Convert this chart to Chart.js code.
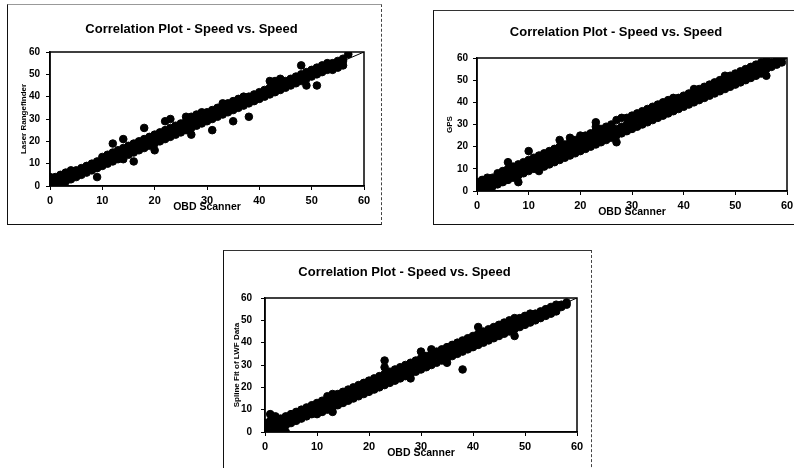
<!DOCTYPE html>
<html>
<head>
<meta charset="utf-8">
<script src="https://cdn.jsdelivr.net/npm/chart.js@4/dist/chart.umd.min.js"></script>
<style>
  body { margin: 0; background: #fff; width: 794px; height: 468px; overflow: hidden; position: relative; }
  .frame { position: absolute; border-left: 1px solid #111; border-bottom: 1px solid #111; border-top: 1px solid #333; border-right: 1px dashed #444; }
  .frame canvas { position: absolute; left: 0; top: 0; }
</style>
</head>
<body>
<div class="frame" style="left:7px; top:4px; width:373px; height:219px; border-top-color:#999;">
  <canvas id="chart1" width="373" height="219"></canvas>
</div>
<div class="frame" style="left:433px; top:10px; width:380px; height:213px;">
  <canvas id="chart2" width="370" height="213"></canvas>
</div>
<div class="frame" style="left:223px; top:250px; width:367px; height:240px;">
  <canvas id="chart3" width="367" height="218"></canvas>
</div>
<script>
// axis ticks, same for every plot
const tickValues = [0, 10, 20, 30, 40, 50, 60];
const chartTitle = 'Correlation Plot - Speed vs. Speed';
const xTitle = 'OBD Scanner';
// 1:1 reference line
const lineX = [0, 60];
const lineY = [0, 60];

// [OBD speed, other speed]
const laserPoints = [
  [0,0],[0,2],[0,4],[0.5,1],[1,0],[1,2],[1,4],[2,1],[2,3],[2,5],[3,2],[3,4],[3,6],[4,3],[4,5],[4,7],
  [5,4],[5,6],[5,7],[6,5],[6,7],[6,8],[7,6],[7,8],[7,9],[8,7],[8,9],[8,10],[9,8],[9,10],[9,11],
  [10,9],[10,11],[10,13],[11,10],[11,12],[11,14],[12,11],[12,13],[12,15],[13,12],[13,14],[13,16],
  [14,12],[14,15],[14,17],[15,14],[15,16],[15,18],[16,15],[16,17],[16,19],[17,16],[17,18],[17,20],
  [18,17],[18,19],[18,21],[19,18],[19,20],[19,22],[20,19],[20,21],[20,23],[21,20],[21,22],[21,24],
  [22,21],[22,23],[22,25],[23,22],[23,24],[23,26],[24,23],[24,25],[24,27],[25,24],[25,26],[25,28],
  [26,25],[26,27],[26,29],[27,26],[27,28],[27,31],[28,27],[28,29],[28,32],[29,28],[29,30],[29,33],
  [30,29],[30,31],[30,33],[31,30],[31,32],[31,34],[32,31],[32,33],[32,35],[33,32],[33,34],[33,36],
  [34,33],[34,35],[34,37],[35,34],[35,36],[35,38],[36,35],[36,37],[36,39],[37,36],[37,38],[37,40],
  [38,37],[38,39],[38,40],[39,38],[39,40],[39,41],[40,39],[40,41],[40,42],[41,40],[41,42],[41,43],
  [42,41],[42,43],[42,44],[43,42],[43,44],[43,45],[44,43],[44,45],[44,46],[45,44],[45,46],[45,47],
  [46,45],[46,47],[46,48],[47,46],[47,48],[47,49],[48,47],[48,49],[48,50],[49,48],[49,50],[49,51],
  [50,49],[50,51],[50,52],[51,50],[51,52],[51,53],[52,51],[52,52],[52,54],[53,52],[53,53],[53,55],
  [54,52],[54,54],[54,55],[55,53],[55,55],[55,56],[56,54],[56,56],[56,57],[57,59],
  [9,4],[16,11],[12,19],[18,26],[23,30],[22,29],[27,23],[31,25],[35,29],[38,31],[33,37],[42,47],
  [43,47],[44,48],[48,54],[49,45],[51,45],[20,16],[14,21],[26,31]
];
const gpsPoints = [
  [0,0],[0,2],[0,4],[1,0],[1,2],[1,5],[2,1],[2,3],[2,6],[3,2],[3,4],[3,6],[4,3],[4,5],[4,8],
  [5,4],[5,6],[5,9],[6,5],[6,7],[6,10],[7,6],[7,8],[7,11],[8,7],[8,9],[8,12],[9,8],[9,10],[9,13],
  [10,9],[10,11],[10,14],[11,10],[11,12],[11,15],[12,11],[12,13],[12,16],[13,11],[13,14],[13,17],
  [14,12],[14,15],[14,18],[15,13],[15,16],[15,19],[16,14],[16,17],[16,20],[17,15],[17,18],[17,21],
  [18,16],[18,19],[18,22],[19,17],[19,20],[19,23],[20,18],[20,21],[20,24],[21,19],[21,22],[21,25],
  [22,20],[22,23],[22,26],[23,21],[23,24],[23,27],[24,22],[24,25],[24,28],[25,23],[25,26],[25,29],
  [26,24],[26,27],[26,30],[27,25],[27,28],[27,32],[28,26],[28,29],[28,33],[29,27],[29,30],[29,33],
  [30,28],[30,31],[30,34],[31,29],[31,32],[31,35],[32,30],[32,33],[32,36],[33,31],[33,34],[33,37],
  [34,32],[34,35],[34,38],[35,33],[35,36],[35,39],[36,34],[36,37],[36,40],[37,35],[37,38],[37,41],
  [38,36],[38,39],[38,42],[39,37],[39,40],[39,42],[40,38],[40,41],[40,43],[41,39],[41,42],[41,44],
  [42,40],[42,43],[42,46],[43,41],[43,44],[43,46],[44,42],[44,45],[44,47],[45,43],[45,46],[45,48],
  [46,44],[46,47],[46,49],[47,45],[47,48],[47,50],[48,46],[48,49],[48,51],[49,47],[49,50],[49,52],
  [50,48],[50,51],[50,53],[51,49],[51,52],[51,54],[52,50],[52,53],[52,55],[53,51],[53,54],[53,56],
  [54,52],[54,55],[54,57],[55,53],[55,56],[55,58],[56,55],[56,57],[56,59],[57,56],[57,58],[58,57],
  [58,59],[59,58],[59,60],
  [6,13],[10,18],[16,23],[18,24],[20,25],[23,29],[23,31],[27,22],[48,52],[56,52],[8,4],[12,9]
];
const lwfPoints = [
  [0,0],[0,2],[0,4],[1,0],[1,3],[1,5],[2,1],[2,3],[2,5],[3,2],[3,4],[3,6],[4,3],[4,5],[4,7],
  [5,4],[5,6],[5,8],[6,5],[6,7],[6,9],[7,6],[7,8],[7,10],[8,7],[8,9],[8,11],[9,8],[9,10],[9,12],
  [10,8],[10,11],[10,13],[11,9],[11,12],[11,14],[12,10],[12,13],[12,16],[13,11],[13,14],[13,17],
  [14,12],[14,15],[14,17],[15,13],[15,16],[15,18],[16,14],[16,17],[16,19],[17,15],[17,18],[17,20],
  [18,16],[18,19],[18,21],[19,17],[19,20],[19,22],[20,18],[20,21],[20,23],[21,19],[21,22],[21,24],
  [22,20],[22,23],[22,25],[23,21],[23,24],[23,26],[24,22],[24,25],[24,27],[25,23],[25,26],[25,28],
  [26,24],[26,27],[26,29],[27,25],[27,28],[27,30],[28,26],[28,29],[28,31],[29,27],[29,30],[29,32],
  [30,28],[30,31],[30,33],[31,29],[31,32],[31,34],[32,30],[32,33],[32,35],[33,31],[33,34],[33,36],
  [34,32],[34,35],[34,37],[35,33],[35,36],[35,38],[36,34],[36,37],[36,39],[37,35],[37,38],[37,40],
  [38,36],[38,39],[38,41],[39,37],[39,40],[39,42],[40,38],[40,41],[40,43],[41,39],[41,42],[41,44],
  [42,40],[42,43],[42,45],[43,41],[43,44],[43,46],[44,42],[44,45],[44,47],[45,43],[45,46],[45,48],
  [46,44],[46,47],[46,49],[47,45],[47,48],[47,50],[48,46],[48,49],[48,51],[49,47],[49,50],[49,51],
  [50,48],[50,51],[50,52],[51,49],[51,51],[51,53],[52,50],[52,52],[52,53],[53,51],[53,53],[53,54],
  [54,52],[54,54],[54,55],[55,53],[55,55],[55,56],[56,54],[56,56],[56,57],[57,56],[57,57],[58,57],[58,58],
  [1,8],[2,7],[23,32],[23,29],[30,36],[32,37],[38,28],[41,47],[48,43],[35,31],[13,9],[3,0],[4,0],[28,24]
];

// draws the box round the plot area
const plotBorder = {
  id: 'plotBorder',
  afterDraw(chart) {
    const a = chart.chartArea;
    const ctx = chart.ctx;
    ctx.save();
    ctx.strokeStyle = '#000';
    ctx.lineWidth = 1.5;
    ctx.strokeRect(a.left, a.top, a.right - a.left, a.bottom - a.top);
    ctx.restore();
  }
};

function axis(isX, titleText, size, labelPad) {
  return {
    type: 'linear',
    min: 0,
    max: 60,
    afterBuildTicks: function (scale) {
      scale.ticks = tickValues.map(v => ({ value: v }));
    },
    // fixed axis box so the plot area lands where the scan has it
    afterFit: function (scale) {
      if (isX) scale.height = size;
      else scale.width = size;
    },
    grid: { display: true, drawOnChartArea: false, tickLength: 4, color: '#000' },
    border: { color: '#000', width: 1.5 },
    ticks: { color: '#000', padding: labelPad, font: { family: 'Liberation Sans', size: isX ? 11 : 10, weight: 'bold' } },
    title: {
      display: true,
      text: titleText,
      color: '#000',
      padding: 0,
      font: { family: 'Liberation Sans', size: isX ? 10.5 : 8, weight: 'bold' }
    }
  };
}

function makeChart(id, points, yTitle, pad, titleGap, yWidth, yLabelPad) {
  const ctx = document.getElementById(id).getContext('2d');
  return new Chart(ctx, {
    type: 'scatter',
    data: {
      datasets: [{
        data: points.map(p => ({ x: p[0], y: p[1] })),
        backgroundColor: '#000',
        borderColor: '#000',
        pointRadius: 3.8,
        pointHoverRadius: 3.8
      }, {
        type: 'line',
        data: lineX.map((x, i) => ({ x: x, y: lineY[i] })),
        borderColor: '#000',
        borderWidth: 1,
        pointRadius: 0,
        fill: false
      }]
    },
    options: {
      responsive: false,
      animation: false,
      layout: { padding: pad },
      plugins: {
        legend: { display: false },
        tooltip: { enabled: false },
        title: {
          display: true,
          text: chartTitle,
          color: '#000',
          padding: { top: 0, bottom: titleGap },
          font: { family: 'Liberation Sans', size: 13, weight: 'bold' }
        }
      },
      scales: {
        x: axis(true, xTitle, 27, 4),
        y: axis(false, yTitle, yWidth, yLabelPad)
      }
    },
    plugins: [plotBorder]
  });
}

document.addEventListener('DOMContentLoaded', function () {
  makeChart('chart1', laserPoints, 'Laser Rangefinder', { top: 17, left: 11, right: 17, bottom: 11 }, 14.4, 31, 6);
  makeChart('chart2', gpsPoints, 'GPS', { top: 14, left: 11, right: 17, bottom: 6 }, 17.4, 32, 5);
  makeChart('chart3', lwfPoints, 'Spline Fit of LWF Data', { top: 14, left: 8, right: 14, bottom: 10 }, 17.4, 33, 9);
});
</script>
</body>
</html>
